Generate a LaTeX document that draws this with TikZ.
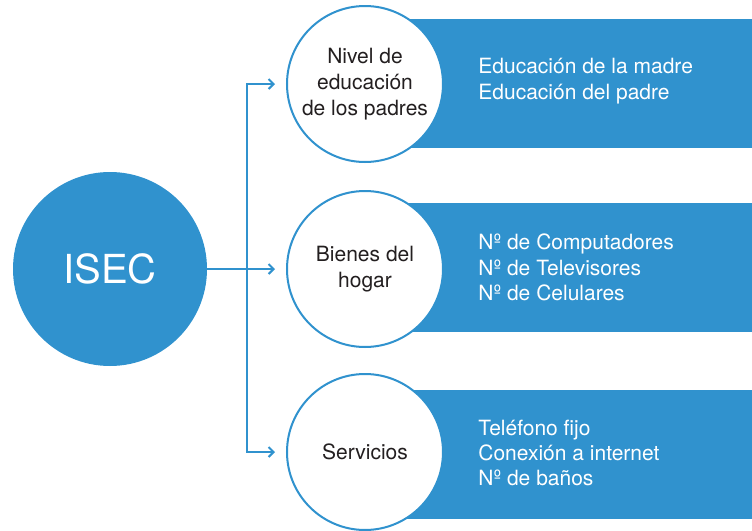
\documentclass[tikz,border=0pt]{standalone}
\usepackage{fontspec}
\setmainfont{TeX Gyre Heros}
\usetikzlibrary{arrows.meta}
\definecolor{isecblue}{HTML}{3092CE}
\definecolor{inkgray}{HTML}{231F20}
\begin{document}
\begin{tikzpicture}[x=.5pt,y=-.5pt,
		band/.style={fill=isecblue,minimum width=193.5pt,minimum height=64.5pt,inner sep=0pt,anchor=west},
		item/.style={text=white,align=left,anchor=west,inner sep=0pt,font=\fontsize{10.5}{12.7}\selectfont},
		topic/.style={circle,draw=isecblue,line width=1pt,fill=white,minimum size=78pt,inner sep=0pt,
			text=inkgray,align=center,font=\fontsize{10.5}{13}\selectfont},
		link/.style={draw=isecblue,line width=1pt,-{Straight Barb[length=2.5pt,width=5pt]},shorten >=5.5pt}]
		\useasboundingbox (0,0) rectangle (752,531);
		
		\node[band] (b1) at (365,83.5) {};
		\node[band] (b2) at (365,267.5) {};
		\node[band] (b3) at (365,454) {};
		
		\node[item] (t1) at (478,81) {Educación de la madre\\Educación del padre};
		\node[item] (t2) at (478,267.5) {Nº de Computadores\\Nº de Televisores\\Nº de Celulares};
		\node[item] (t3) at (478,453) {Teléfono fijo\\Conexión a internet\\Nº de baños};
		
		\node[circle,fill=isecblue,minimum size=97pt,inner sep=0pt,text=white,font=\fontsize{20}{20}\selectfont] (isec) at (110,269) {ISEC};
		
		\node[topic] (c1) at (365,84) {Nivel de\\educación\\de los padres};
		\node[topic] (c2) at (365,269) {Bienes del\\hogar};
		\node[topic] (c3) at (365,452) {Servicios};
		
		\coordinate (j) at (247,269);
		\draw[link] (isec.east) -- (c2.west);
		\draw[link] (j) |- (c1.west);
		\draw[link] (j) |- (c3.west);
		\end{tikzpicture}
\end{document}
